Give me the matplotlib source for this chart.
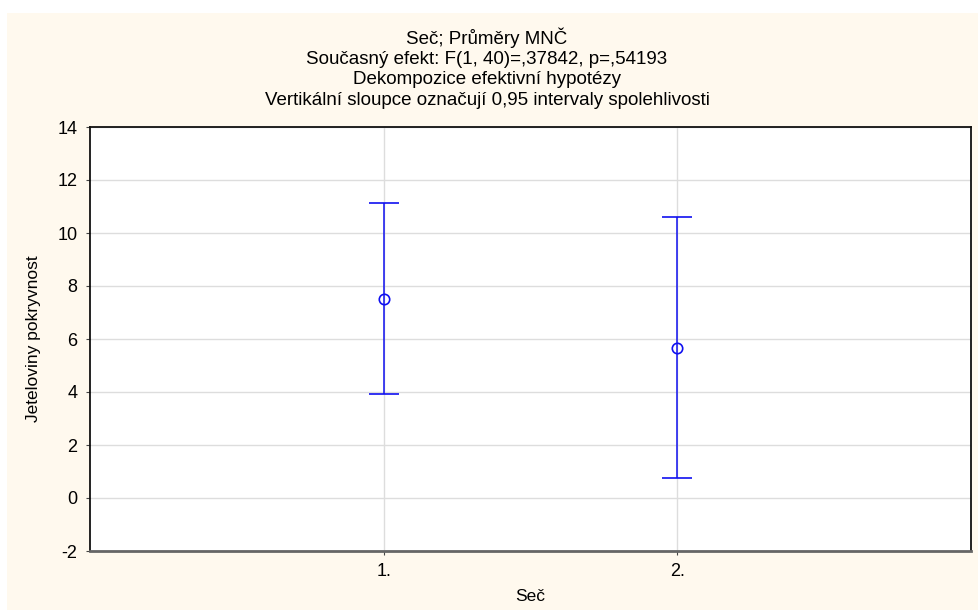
import matplotlib
matplotlib.use("Agg")
import matplotlib.pyplot as plt
from matplotlib.patches import Rectangle

plt.rcParams['font.family'] = ['Liberation Sans', 'DejaVu Sans']
plt.rcParams['axes.unicode_minus'] = False

categories = ["1.", "2."]
means = [7.52, 5.67]
ci_low = [3.91, 0.74]
ci_high = [11.13, 10.59]
yticks = [-2, 0, 2, 4, 6, 8, 10, 12, 14]
title_lines = ["Seč; Průměry MNČ",
               "Současný efekt: F(1, 40)=,37842, p=,54193",
               "Dekompozice efektivní hypotézy",
               "Vertikální sloupce označují 0,95 intervaly spolehlivosti"]

W, H = 979, 610
fig = plt.figure(figsize=(W / 100, H / 100), dpi=100)
fig.patch.set_facecolor("white")
# cream panel behind everything
fig.patches.append(Rectangle((7 / W, 0), 1 - 7 / W, 1 - 13 / H,
                             transform=fig.transFigure, facecolor="#FFF9EE",
                             edgecolor="none", zorder=-5))

ax = fig.add_axes([90 / W, 1 - 551 / H, (971 - 90) / W, (551 - 127) / H])
ax.set_facecolor("white")

xs = [1, 2]
err_lo = [m - l for m, l in zip(means, ci_low)]
err_hi = [h - m for m, h in zip(means, ci_high)]
ax.errorbar(xs, means, yerr=[err_lo, err_hi], fmt="o", color="#1010F0",
            mfc="none", mec="#1010F0", ms=7.5, mew=1.2, elinewidth=1.1,
            capsize=10.5, capthick=1.1, zorder=3)

ax.set_xlim(0, 3)
ax.set_ylim(-2, 14)
ax.set_xticks(xs)
ax.set_xticklabels(categories)
ax.set_yticks(yticks)
ax.grid(True, color="#DDDDDD", lw=1)
ax.set_axisbelow(True)
ax.tick_params(axis="both", labelsize=13, length=3, color="#444444", pad=6)

for s in ["left", "top", "right"]:
    ax.spines[s].set_color("#111111")
    ax.spines[s].set_linewidth(1.3)
ax.spines["bottom"].set_color("#666666")
ax.spines["bottom"].set_linewidth(2)

ax.set_xlabel("Seč", fontsize=12.5, labelpad=6)
ax.set_ylabel("Jeteloviny pokryvnost", fontsize=12.5,
              family=["Liberation Sans Narrow", "Liberation Sans", "DejaVu Sans"],
              labelpad=12)

for i, t in enumerate(title_lines):
    fig.text(487 / W, 1 - (38 + i * 21) / H, t, ha="center", va="center", fontsize=13.5)

fig.savefig("out.png", dpi=100, facecolor=fig.get_facecolor())
